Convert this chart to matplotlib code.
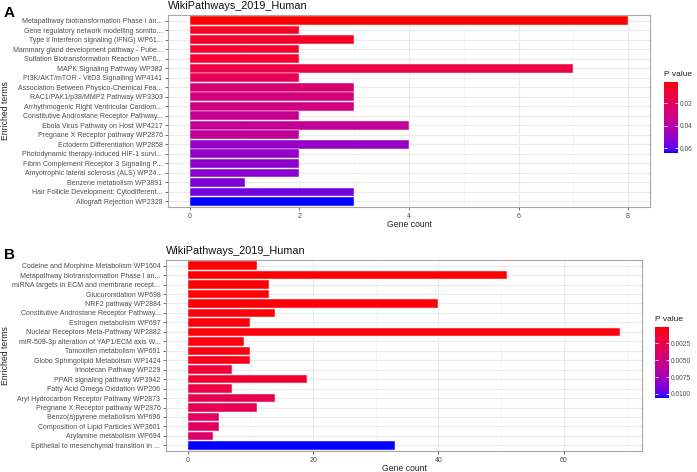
import numpy as np
import matplotlib
matplotlib.use('Agg')
import matplotlib.pyplot as plt
from matplotlib.colors import ListedColormap, Normalize

plt.rcParams['font.family'] = ['Liberation Sans', 'DejaVu Sans']

# Panel A data (top to bottom)
terms_a = ['Metapathway biotransformation Phase I an...',
           'Gene regulatory network modelling somito...',
           'Type II interferon signaling (IFNG) WP61...',
           'Mammary gland development pathway - Pube...',
           'Sulfation Biotransformation Reaction WP6...',
           'MAPK Signaling Pathway WP382',
           'PI3K/AKT/mTOR - VitD3 Signalling WP4141',
           'Association Between Physico-Chemical Fea...',
           'RAC1/PAK1/p38/MMP2 Pathway WP3303',
           'Arrhythmogenic Right Ventricular Cardiom...',
           'Constitutive Androstane Receptor Pathway...',
           'Ebola Virus Pathway on Host WP4217',
           'Pregnane X Receptor pathway WP2876',
           'Ectoderm Differentiation WP2858',
           'Photodynamic therapy-induced HIF-1 survi...',
           'Fibrin Complement Receptor 3 Signaling P...',
           'Amyotrophic lateral sclerosis (ALS) WP24...',
           'Benzene metabolism WP3891',
           'Hair Follicle Development: Cytodifferent...',
           'Allograft Rejection WP2328']
count_a = [8, 2, 3, 2, 2, 7, 2, 3, 3, 3, 2, 4, 2, 4, 2, 2, 2, 1, 3, 3]
pval_a = [0.0015, 0.007, 0.008, 0.008, 0.009, 0.014, 0.019, 0.026, 0.029, 0.030,
          0.035, 0.036, 0.037, 0.049, 0.050, 0.051, 0.052, 0.054, 0.056, 0.064]

# Panel B data (top to bottom)
terms_b = ['Codeine and Morphine Metabolism WP1604',
           'Metapathway biotransformation Phase I an...',
           'miRNA targets in ECM and membrane recept...',
           'Glucuronidation WP698',
           'NRF2 pathway WP2884',
           'Constitutive Androstane Receptor Pathway...',
           'Estrogen metabolism WP697',
           'Nuclear Receptors Meta-Pathway WP2882',
           'miR-509-3p alteration of YAP1/ECM axis W...',
           'Tamoxifen metabolism WP691',
           'Globo Sphingolipid Metabolism WP1424',
           'Irinotecan Pathway WP229',
           'PPAR signaling pathway WP3942',
           'Fatty Acid Omega Oxidation WP206',
           'Aryl Hydrocarbon Receptor Pathway WP2873',
           'Pregnane X Receptor pathway WP2876',
           'Benzo(a)pyrene metabolism WP696',
           'Composition of Lipid Particles WP3601',
           'Arylamine metabolism WP694',
           'Epithelial to mesenchymal transition in ...']
count_b = [11, 51, 13, 13, 40, 14, 10, 69, 9, 10, 10, 7, 19, 7, 14, 11, 5, 5, 4, 33]
pval_b = [0.0001, 0.0001, 0.0002, 0.0002, 0.0002, 0.0003, 0.0003, 0.0003, 0.0004, 0.0005,
          0.0006, 0.0017, 0.0014, 0.0022, 0.0027, 0.0028, 0.0033, 0.0034, 0.0038, 0.0106]


# red -> blue gradient interpolated in Lab space (like ggplot)
def srgb_to_lab(rgb):
    c = np.asarray(rgb, float)
    lin = np.where(c <= 0.04045, c / 12.92, ((c + 0.055) / 1.055) ** 2.4)
    M = np.array([[0.4124, 0.3576, 0.1805],
                  [0.2126, 0.7152, 0.0722],
                  [0.0193, 0.1192, 0.9505]])
    xyz = M @ lin / np.array([0.95047, 1.0, 1.08883])
    f = np.where(xyz > 0.008856, np.cbrt(xyz), 7.787 * xyz + 16 / 116)
    return np.array([116 * f[1] - 16, 500 * (f[0] - f[1]), 200 * (f[1] - f[2])])


def lab_to_srgb(lab):
    L, a, b = lab
    fy = (L + 16) / 116
    fx = fy + a / 500
    fz = fy - b / 200
    f = np.array([fx, fy, fz])
    xyz = np.where(f ** 3 > 0.008856, f ** 3, (f - 16 / 116) / 7.787)
    xyz = xyz * np.array([0.95047, 1.0, 1.08883])
    Minv = np.array([[3.2406, -1.5372, -0.4986],
                     [-0.9689, 1.8758, 0.0415],
                     [0.0557, -0.2040, 1.0570]])
    lin = Minv @ xyz
    c = np.where(lin <= 0.0031308, 12.92 * lin, 1.055 * np.clip(lin, 0, None) ** (1 / 2.4) - 0.055)
    return np.clip(c, 0, 1)


lab_red = srgb_to_lab([1, 0, 0])
lab_blue = srgb_to_lab([0, 0, 1])
cols = [lab_to_srgb(lab_red + t * (lab_blue - lab_red)) for t in np.linspace(0, 1, 256)]
cmap = ListedColormap(cols)

W, H = 697, 472
fig = plt.figure(figsize=(W / 100, H / 100), dpi=100)


def draw_panel(ax_rect, cax_rect, terms, counts, pvals, xmajor, cticks, ctick_labels, letter, letter_y):
    ax = fig.add_axes(ax_rect)
    n = len(terms)
    y = np.arange(n)[::-1] + 1
    norm = Normalize(vmin=min(pvals), vmax=max(pvals))
    ax.barh(y, counts, height=0.9, color=cmap(norm(np.array(pvals))),
            edgecolor='#F4F0F6', linewidth=0.35, zorder=2)
    xmax = max(counts)
    ax.set_xlim(-0.05 * xmax, 1.05 * xmax)
    ax.set_ylim(0.4, n + 0.6)
    ax.set_yticks(y)
    ax.set_yticklabels(terms, fontsize=5, color='#4D4D4D')
    ax.set_xticks(xmajor)
    ax.set_xticklabels([str(v) for v in xmajor], fontsize=5, color='#4D4D4D')
    minors = [(xmajor[i] + xmajor[i + 1]) / 2 for i in range(len(xmajor) - 1)]
    minors.append(xmajor[-1] + (xmajor[1] - xmajor[0]) / 2)
    ax.set_xticks([m for m in minors if m < 1.05 * xmax], minor=True)
    ax.tick_params(axis='both', which='major', length=2.5, width=0.5, color='#333333', pad=1.5)
    ax.tick_params(axis='x', which='minor', length=0)
    ax.grid(True, which='major', color='#EBEBEB', linewidth=0.8, zorder=0)
    ax.grid(True, which='minor', axis='x', color='#F2F2F2', linewidth=0.5, zorder=0)
    ax.set_axisbelow(True)
    for s in ax.spines.values():
        s.set_color('#A6A6A6')
        s.set_linewidth(0.8)
    ax.set_xlabel('Gene count', fontsize=6.2, color='#222222', labelpad=0.5)
    ax.set_ylabel('Enriched terms', fontsize=6.2, color='#222222')
    ax.yaxis.set_label_coords((10 - ax_rect[0] * W) / (ax_rect[2] * W), 0.5)
    ax.set_title('WikiPathways_2019_Human', fontsize=7.8, loc='left', pad=4, color='#111111')
    fig.text(4 / W, letter_y, letter, fontsize=11, fontweight='bold', va='top', ha='left')

    # colorbar, low p (red) at top
    cax = fig.add_axes(cax_rect)
    sm = plt.cm.ScalarMappable(norm=norm, cmap=cmap)
    cb = fig.colorbar(sm, cax=cax)
    cb.outline.set_visible(False)
    cax.invert_yaxis()
    cb.set_ticks(cticks)
    cb.set_ticklabels(ctick_labels)
    cax.tick_params(left=True, right=True, labelleft=False, labelright=True,
                    direction='in', length=2.5, width=0.6, color='white',
                    labelsize=4.8, labelcolor='#4D4D4D', pad=1.5)
    cax.set_title('P value', fontsize=6, loc='left', pad=4, color='#222222')


draw_panel([168 / W, 1 - 207 / H, 482 / W, 192 / H],
           [664 / W, 1 - 153 / H, 14 / W, 71 / H],
           terms_a, count_a, pval_a, [0, 2, 4, 6, 8],
           [0.02, 0.04, 0.06], ['0.02', '0.04', '0.06'], 'A', 1 - 6 / H)
draw_panel([166 / W, 1 - 451 / H, 476 / W, 191 / H],
           [655 / W, 1 - 398 / H, 14 / W, 71 / H],
           terms_b, count_b, pval_b, [0, 20, 40, 60],
           [0.0025, 0.005, 0.0075, 0.01], ['0.0025', '0.0050', '0.0075', '0.0100'], 'B', 1 - 248 / H)

fig.savefig('out.png', dpi=100, facecolor='white')
